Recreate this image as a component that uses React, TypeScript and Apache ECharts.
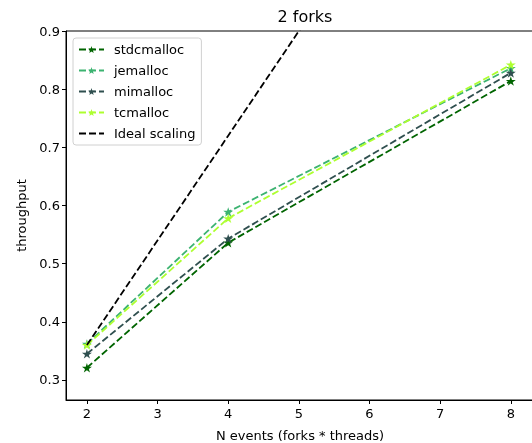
import React, { useEffect, useRef } from "react";
import * as echarts from "echarts";

// Benchmark data: throughput per allocator vs number of events
const nEvents = [2, 4, 8];
const stdcmalloc = [0.321, 0.536, 0.814];
const jemalloc = [0.362, 0.589, 0.836];
const mimalloc = [0.345, 0.543, 0.828];
const tcmalloc = [0.36, 0.578, 0.842];
const idealScaling = [0.36, 0.72, 1.44];

const seriesNames = ["stdcmalloc", "jemalloc", "mimalloc", "tcmalloc", "Ideal scaling"];
const seriesColors = ["#006400", "#3cb371", "#2f4f4f", "#adff2f", "#000000"];
const xTicks = [2, 3, 4, 5, 6, 7, 8];
const yTicks = [0.3, 0.4, 0.5, 0.6, 0.7, 0.8, 0.9];

const STAR =
  "path://M10 0L12.245 6.91L19.51 6.91L13.63 11.18L15.88 18.09L10 13.82L4.12 18.09L6.37 11.18L0.49 6.91L7.755 6.91Z";

const FONT = "DejaVu Sans";

export default function App() {
  const ref = useRef<HTMLDivElement>(null);

  useEffect(() => {
    if (!ref.current) return;
    const chart = echarts.init(ref.current, undefined, { renderer: "svg" });

    const values = [stdcmalloc, jemalloc, mimalloc, tcmalloc, idealScaling];
    const series = values.map((vals, i) => {
      const isIdeal = i === 4;
      return {
        name: seriesNames[i],
        type: "line",
        data: nEvents.map((x, j) => [x, vals[j]]),
        symbol: isIdeal ? "none" : STAR,
        symbolSize: [10, 9.5],
        showSymbol: !isIdeal,
        color: seriesColors[i],
        itemStyle: { color: seriesColors[i] },
        lineStyle: { color: seriesColors[i], width: 1.8, type: [7, 3] },
        clip: true,
        z: 2 + i,
      };
    });

    chart.setOption({
      animation: false,
      textStyle: { fontFamily: FONT },
      title: [
        {
          text: "2 forks",
          left: 300,
          top: 3,
          textAlign: "center",
          textStyle: { fontFamily: FONT, fontSize: 16, fontWeight: "normal", color: "#000" },
        },
        {
          text: "N events (forks * threads)",
          left: 300,
          top: 429,
          padding: 0,
          textAlign: "center",
          textStyle: { fontFamily: FONT, fontSize: 13, fontWeight: "normal", color: "#000" },
        },
      ],
      legend: {
        orient: "vertical",
        left: 73,
        top: 38,
        itemWidth: 25,
        itemHeight: 9,
        itemGap: 8,
        padding: [5, 6, 5, 5],
        borderColor: "#d0d0d0",
        borderWidth: 1,
        borderRadius: 3,
        backgroundColor: "rgba(255,255,255,0.8)",
        data: seriesNames.map((name, i) =>
          i === 4 ? { name, itemStyle: { opacity: 0 } } : { name }
        ),
        textStyle: { fontFamily: FONT, fontSize: 13, color: "#000", padding: [0, 0, 0, 5] },
      },
      grid: { left: 66, top: 31, width: 468.3, height: 369, containLabel: false },
      xAxis: {
        type: "value",
        min: 1.704,
        max: 8.3,
        axisLine: { show: true, lineStyle: { color: "#000", width: 1 } },
        axisTick: { show: true, inside: false, length: 4, customValues: xTicks, lineStyle: { color: "#000" } },
        axisLabel: {
          customValues: xTicks,
          margin: 7,
          fontFamily: FONT,
          fontSize: 13,
          color: "#000",
          formatter: (v: number) => String(v),
        },
        splitLine: { show: false },
      },
      yAxis: {
        type: "value",
        min: 0.2656,
        max: 0.9,
        name: "throughput",
        nameLocation: "middle",
        nameGap: 38,
        nameTextStyle: { fontFamily: FONT, fontSize: 13, color: "#000" },
        axisLine: { show: true, lineStyle: { color: "#000", width: 1 } },
        axisTick: { show: true, inside: false, length: 4, customValues: yTicks, lineStyle: { color: "#000" } },
        axisLabel: {
          customValues: yTicks,
          margin: 6,
          fontFamily: FONT,
          fontSize: 13,
          color: "#000",
          formatter: (v: number) => v.toFixed(1),
        },
        splitLine: { show: false },
      },
      graphic: [
        {
          type: "rect",
          shape: { x: 66, y: 31, width: 468.3, height: 369 },
          style: { fill: "none", stroke: "#000", lineWidth: 1 },
          silent: true,
          z: 1,
        },
      ],
      series,
    });

    return () => chart.dispose();
  }, []);

  return (
    <div
      ref={ref}
      style={{ position: "fixed", left: 0, top: 0, width: 532, height: 443 }}
    />
  );
}
